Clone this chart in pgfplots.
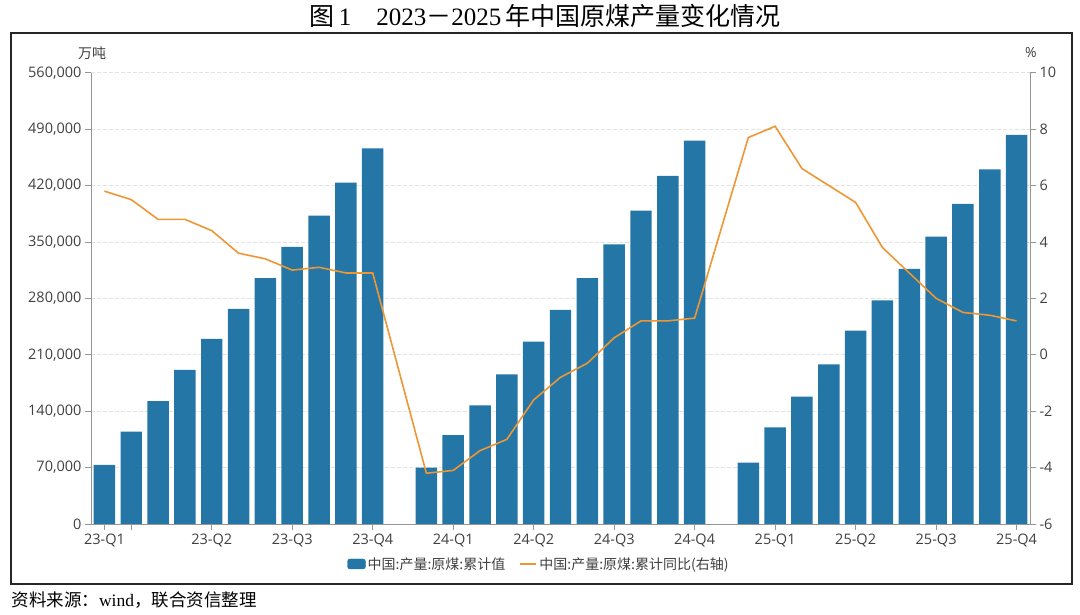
\documentclass[border=0pt]{standalone}
\usepackage{pgfplots}
\usepackage{pgfplotstable}
\pgfplotsset{compat=1.18}
\usepackage{fontspec}
\setmainfont{Open Sans}
\newfontfamily\cjk{Noto Sans CJK SC}
\newfontfamily\serif{Liberation Serif}

\definecolor{barblue}{RGB}{36,118,166}
\definecolor{lineorange}{RGB}{239,150,52}
\definecolor{axisgray}{RGB}{150,150,150}
\definecolor{labelgray}{RGB}{64,64,64}
\definecolor{gridgray}{RGB}{226,226,226}

% slot 0 = 23-Feb ... slot 11 and 23 are the empty Januaries
\pgfplotstableread{
x val
0 73300
1 114500
2 152600
3 191100
4 229600
5 266800
6 305000
7 343800
8 382600
9 423600
10 466200
12 69900
13 110400
14 147300
15 185700
16 226300
17 265600
18 305000
19 347100
20 388800
21 431900
22 475700
24 76100
25 120000
26 158000
27 198200
28 239900
29 277500
30 316500
31 356600
32 397100
33 440100
34 482700
}\output

\pgfplotstableread{
x yoy
0 5.8
1 5.5
2 4.8
3 4.8
4 4.4
5 3.6
6 3.4
7 3.0
8 3.1
9 2.9
10 2.9
12 -4.2
13 -4.1
14 -3.4
15 -3.0
16 -1.6
17 -0.8
18 -0.3
19 0.6
20 1.2
21 1.2
22 1.3
24 7.7
25 8.1
26 6.6
27 6.0
28 5.4
29 3.8
30 2.9
31 2.0
32 1.5
33 1.4
34 1.2
}\yoy

\pgfplotsset{
  common/.style={
    at={(91bp,91bp)}, anchor=south west,
    scale only axis, width=939bp, height=451.3bp,
    xmin=-0.5, xmax=34.5,
    tick align=outside,
    major tick length=6bp,
    axis line style={axisgray, line width=0.8bp},
    tick style={axisgray, line width=0.8bp},
    ticklabel style={font=\fontsize{14.5bp}{16bp}\selectfont, text=labelgray},
    /pgf/number format/assume math mode=true,
    scaled y ticks=false,
  }
}

\begin{document}
\begin{tikzpicture}[x=1bp,y=1bp]
\useasboundingbox (0,0) rectangle (1080,615);

\begin{axis}[common,
  ymin=0, ymax=560000,
  ytick={0,70000,...,560000},
  yticklabel style={/pgf/number format/.cd, fixed, 1000 sep={,}},
  axis x line*=bottom, axis y line*=left,
  xtick={0,1,4,7,10,13,16,19,22,25,28,31,34},
  xticklabels={23-Q1,{},23-Q2,23-Q3,23-Q4,24-Q1,24-Q2,24-Q3,24-Q4,25-Q1,25-Q2,25-Q3,25-Q4},
  ymajorgrids,
  grid style={gridgray, dash pattern=on 4bp off 2bp, line width=0.8bp},
  ybar, bar width=0.8,
]
\addplot[fill=barblue, draw=none] table[x=x, y=val]{\output};
\end{axis}

\begin{axis}[common,
  ymin=-6, ymax=10,
  ytick={-6,-4,...,10},
  axis y line*=right, axis x line=none,
  legend columns=2,
  legend style={draw=none, fill=none, at={(0.477,-0.0886)}, anchor=center,
    font=\cjk\fontsize{14bp}{16bp}\selectfont, text=labelgray,
    /tikz/every even column/.append style={column sep=12bp}},
]
\addlegendimage{legend image code/.code={\fill[barblue, rounded corners=2.5bp] (0bp,-5bp) rectangle (18bp,5bp);}}
\addlegendentry{中国:产量:原煤:累计值}
\addplot[lineorange, line width=1.6bp, mark=none,
  legend image code/.code={\draw[lineorange, line width=2bp] (0bp,0bp) -- (16bp,0bp);}]
  table[x=x, y=yoy]{\yoy};
\addlegendentry{中国:产量:原煤:累计同比(右轴)}
\end{axis}

\draw[line width=2bp, black!85] (11,31) rectangle (1072,582);
\node[text=labelgray, font=\cjk\fontsize{14bp}{16bp}\selectfont] at (92,562) {万吨};
\node[text=labelgray, font=\fontsize{14bp}{16bp}\selectfont] at (1031,562) {\%};
\node[font=\fontsize{25bp}{28bp}\selectfont] at (545,599)
  {{\cjk 图}\,{\serif 1}{\cjk 　}{\serif 2023}{\cjk －}{\serif 2025}\,{\cjk 年中国原煤产量变化情况}};
\node[anchor=west, font=\fontsize{17.5bp}{20bp}\selectfont] at (8,15)
  {{\cjk 资料来源：}{\serif wind}{\cjk ，联合资信整理}};
\end{tikzpicture}
\end{document}
